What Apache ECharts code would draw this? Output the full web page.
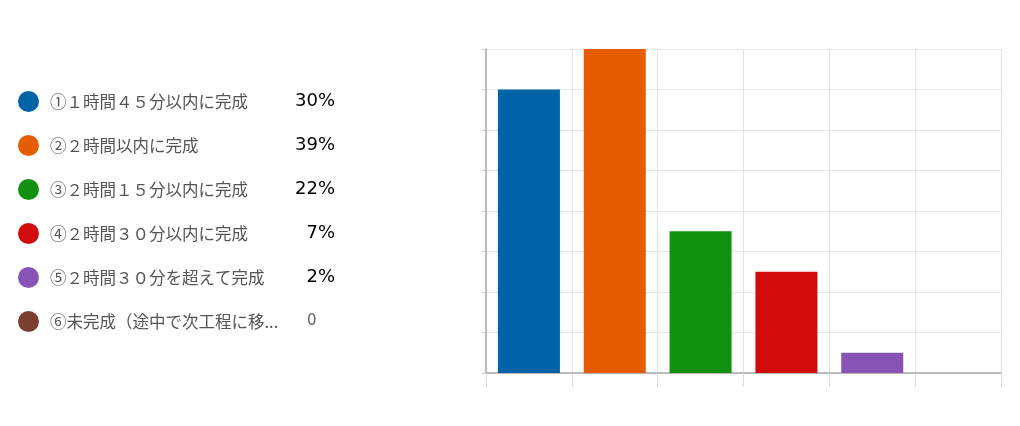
<!DOCTYPE html>
<html><head><meta charset="utf-8">
<script src="https://cdn.jsdelivr.net/npm/echarts@6/dist/echarts.min.js"></script>
<style>html,body{margin:0;padding:0;background:#fff}#c{width:1020px;height:426px}</style>
</head><body><div id="c"></div>
<script>
const categories = ['①１時間４５分以内に完成','②２時間以内に完成','③２時間１５分以内に完成','④２時間３０分以内に完成','⑤２時間３０分を超えて完成','⑥未完成（途中で次工程に移...'];
const values = [7, 8, 3.5, 2.5, 0.5, 0];
const percents = ['30%','39%','22%','7%','2%','0'];
const colors = ['#0063a8','#e65c00','#119011','#d10b0b','#8753b5','#7d3e32'];

const series = categories.map((name, i) => ({
  name: name,
  type: 'bar',
  stack: 'all',
  barWidth: 62,
  itemStyle: { color: colors[i] },
  data: categories.map((c, j) => j === i ? values[i] : null)
}));

const chart = echarts.init(document.getElementById('c'), null, {renderer: 'canvas'});
chart.setOption({
  animation: false,
  legend: {
    orient: 'vertical',
    left: 18,
    top: 91,
    padding: 0,
    icon: 'circle',
    itemWidth: 21,
    itemHeight: 21,
    itemGap: 23,
    selectedMode: false,
    data: categories,
    formatter: function (name) {
      const i = categories.indexOf(name);
      const p = percents[i];
      return '{n|' + name + '}' + (p === '0' ? '{z|' + p + '}' : '{p|' + p + '}');
    },
    textStyle: {
      rich: {
        n: { width: 238, padding: [0, 0, 0, 6], fontSize: 16.5, color: '#555', fontFamily: 'Noto Sans CJK JP' },
        p: { width: 47, align: 'right', fontSize: 18, color: '#000', fontFamily: 'DejaVu Sans' },
        z: { width: 47, align: 'left', padding: [0, 0, 0, 19], fontSize: 15, color: '#666', fontFamily: 'DejaVu Sans' }
      }
    }
  },
  grid: { left: 486, right: 19, top: 49, bottom: 53 },
  xAxis: {
    type: 'category',
    data: categories,
    axisLine: { lineStyle: { color: '#a8a8a8', width: 1.5 } },
    axisTick: { show: true, interval: 0, length: 14, lineStyle: { color: '#dcdcdc' } },
    axisLabel: { show: false, interval: 0 },
    splitLine: { show: true, interval: 0, lineStyle: { color: '#e2e2e2' } }
  },
  yAxis: {
    type: 'value',
    min: 0, max: 8, interval: 1,
    axisLine: { show: true, lineStyle: { color: '#a8a8a8', width: 1.5 } },
    axisTick: { show: true, length: 4, lineStyle: { color: '#c8c8c8' } },
    axisLabel: { show: false },
    splitLine: { show: true, lineStyle: { color: '#e6e6e6' } }
  },
  series: series
});
</script>
</body></html>
